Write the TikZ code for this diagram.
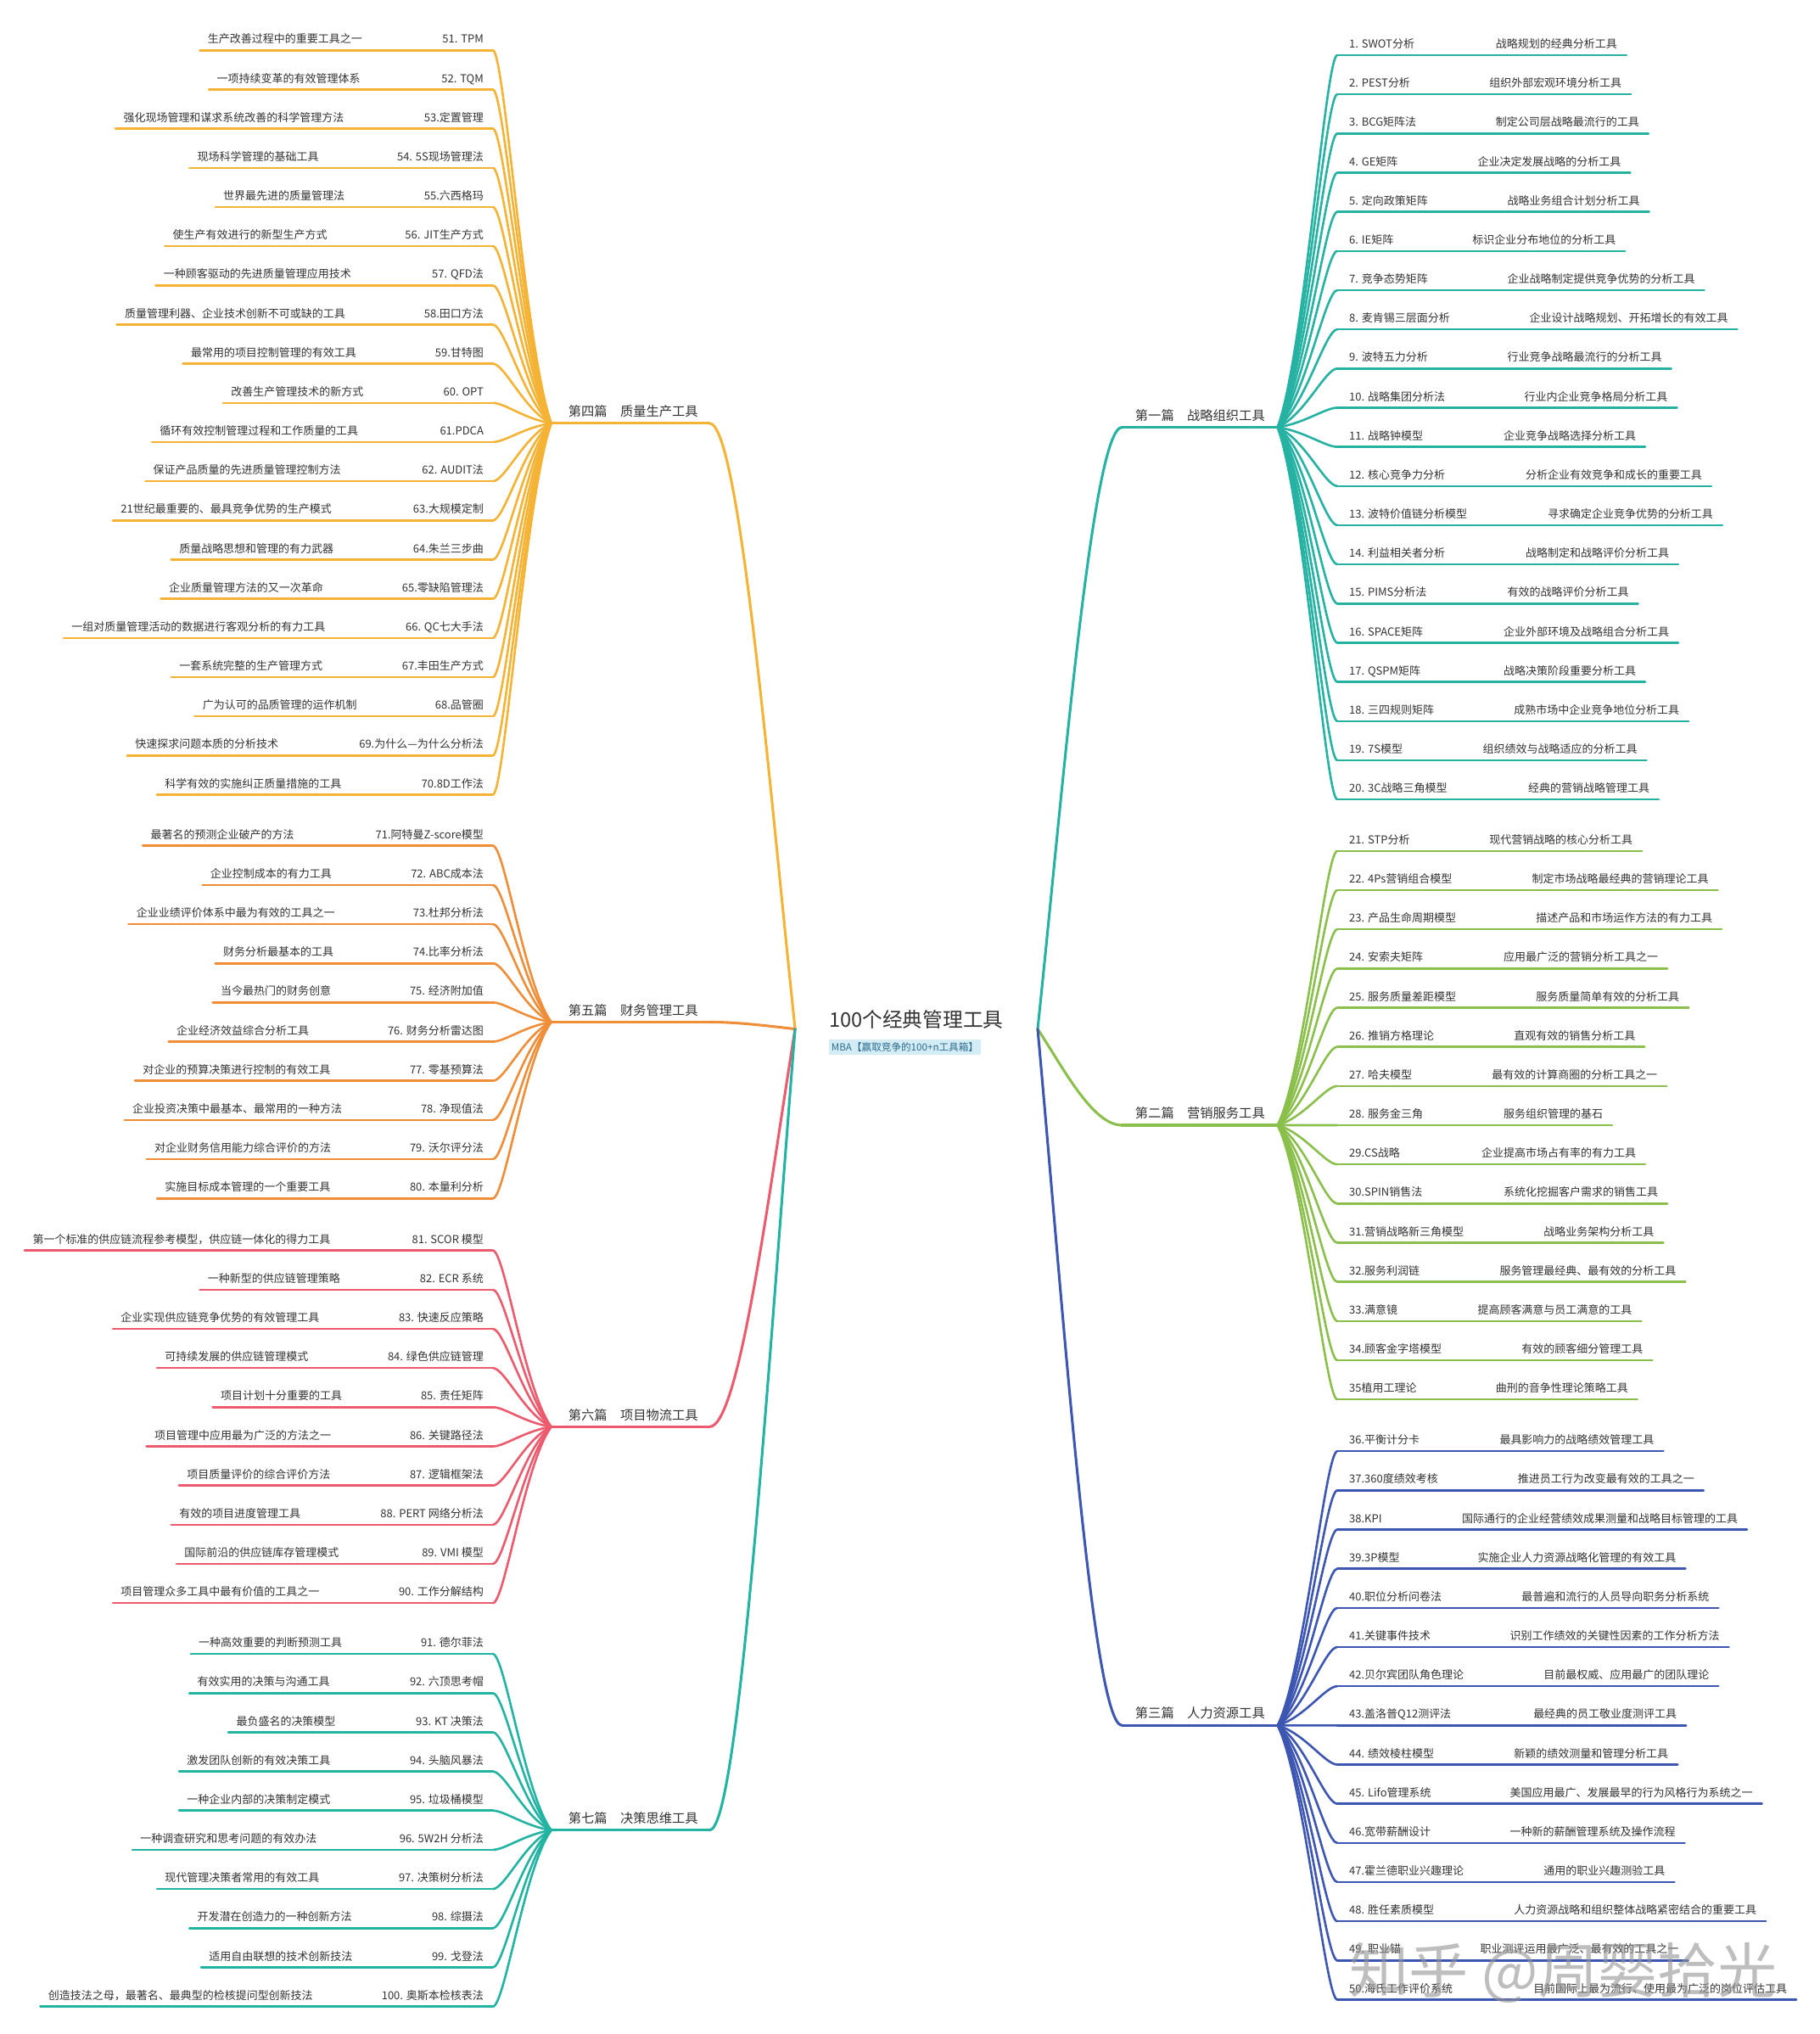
\documentclass[tikz,border=0pt]{standalone}
\usepackage{fontspec}
\setmainfont{Noto Sans CJK SC}
\usetikzlibrary{calc}
\definecolor{cA}{HTML}{26B2A2}
\definecolor{cB}{HTML}{8BBF4C}
\definecolor{cC}{HTML}{3D56B2}
\definecolor{cD}{HTML}{F5B335}
\definecolor{cE}{HTML}{F08D38}
\definecolor{cF}{HTML}{EC5B6D}
\definecolor{cG}{HTML}{22B3A3}
\definecolor{txtc}{HTML}{333333}
\definecolor{subbg}{HTML}{D3ECF5}
\definecolor{subtx}{HTML}{2E6C8E}
\tikzset{
  itm/.style={font=\fontsize{8.5}{10}\selectfont, text=txtc, inner sep=0pt},
  uline/.style={line width=1.7pt, line cap=round},
  fanline/.style={line width=1.7pt},
  bline/.style={line width=2pt, line cap=round},
  blab/.style={font=\fontsize{10}{12}\selectfont, text=txtc, inner sep=0pt},
}
\newcommand\myfancurve[3]{\draw[fanline,#3] let \p1=(#1), \p2=(#2) in (#1) .. controls ({\x1+0.45*(\x2-\x1)},{\y1+0.2*(\y2-\y1)}) and ({\x1+0.8*(\x2-\x1)},{\y2}) .. (#2);}
\newcommand\mybranchcurve[3]{\draw[bline,#3] let \p1=(#1), \p2=(#2) in (#1) .. controls ({\x1+0.3*(\x2-\x1)},{\y1+0.4*(\y2-\y1)}) and ({\x1+0.65*(\x2-\x1)},{\y2}) .. (#2);}
\newcommand\myrightgroup[5]{%
  \foreach \k/\nm/\dx/\ds in {#5}{%
    \pgfmathsetmacro\yu{#3+(\k-#4)*30.2}%
    \coordinate (r\k) at (1031,\yu);
    \node[itm,anchor=base west] (rn\k) at (1040,\yu-5.5) {\nm};
    \node[itm,anchor=base west] (rd\k) at (\dx,\yu-5.5) {\ds};
    \draw[uline,#1] (r\k) -- ([xshift=7pt]rd\k.east |- r\k);
    \myfancurve{#2}{r\k}{#1}
  }}
\newcommand\myleftgroup[5]{%
  \foreach \k/\dx/\ds/\nm in {#5}{%
    \pgfmathsetmacro\yu{#3+(\k-#4)*30.2}%
    \coordinate (l\k) at (380,\yu);
    \node[itm,anchor=base east] (ln\k) at (373,\yu-5.5) {\nm};
    \node[itm,anchor=base west] (ld\k) at (\dx,\yu-5.5) {\ds};
    \draw[uline,#1] ([xshift=-6pt]ld\k.west |- l\k) -- (l\k);
    \myfancurve{#2}{l\k}{#1}
  }}
\begin{document}
\begin{tikzpicture}[x=1pt,y=-1pt]
\useasboundingbox (0,0) rectangle (1403,1568);
\fill[white] (0,0) rectangle (1403,1568);
\coordinate (R0) at (800,793.2);
\coordinate (L0) at (613,793.2);

% ---------- right branches ----------
\coordinate (b1s) at (865,329.4); \coordinate (F1) at (985,329.4);
\node[blab,anchor=base west] (b1) at (875,323.9) {第一篇\hspace{1em}战略组织工具};
\draw[bline,cA] (b1s) -- (F1);
\mybranchcurve{R0}{b1s}{cA}

\coordinate (b2s) at (865,867.4); \coordinate (F2) at (985,867.4);
\node[blab,anchor=base west] (b2) at (875,861.9) {第二篇\hspace{1em}营销服务工具};
\draw[bline,cB] (b2s) -- (F2);
\mybranchcurve{R0}{b2s}{cB}

\coordinate (b3s) at (865,1330.1); \coordinate (F3) at (985,1330.1);
\node[blab,anchor=base west] (b3) at (875,1324.6) {第三篇\hspace{1em}人力资源工具};
\draw[bline,cC] (b3s) -- (F3);
\mybranchcurve{R0}{b3s}{cC}

% ---------- left branches ----------
\coordinate (b4s) at (547,326.3); \coordinate (F4) at (425,326.3);
\node[blab,anchor=base west] (b4) at (438,320.8) {第四篇\hspace{1em}质量生产工具};
\draw[bline,cD] (b4s) -- (F4);
\mybranchcurve{L0}{b4s}{cD}

\coordinate (b5s) at (547,787.9); \coordinate (F5) at (425,787.9);
\node[blab,anchor=base west] (b5) at (438,782.4) {第五篇\hspace{1em}财务管理工具};
\draw[bline,cE] (b5s) -- (F5);
\mybranchcurve{L0}{b5s}{cE}

\coordinate (b6s) at (547,1099.9); \coordinate (F6) at (425,1099.9);
\node[blab,anchor=base west] (b6) at (438,1094.4) {第六篇\hspace{1em}项目物流工具};
\draw[bline,cF] (b6s) -- (F6);
\mybranchcurve{L0}{b6s}{cF}

\coordinate (b7s) at (547,1410.9); \coordinate (F7) at (425,1410.9);
\node[blab,anchor=base west] (b7) at (438,1405.4) {第七篇\hspace{1em}决策思维工具};
\draw[bline,cG] (b7s) -- (F7);
\mybranchcurve{L0}{b7s}{cG}

% ---------- right items ----------
\myrightgroup{cA}{F1}{42.5}{1}{
1/{1. SWOT分析}/1153/{战略规划的经典分析工具},
2/{2. PEST分析}/1148/{组织外部宏观环境分析工具},
3/{3. BCG矩阵法}/1153/{制定公司层战略最流行的工具},
4/{4. GE矩阵}/1139/{企业决定发展战略的分析工具},
5/{5. 定向政策矩阵}/1162/{战略业务组合计划分析工具},
6/{6. IE矩阵}/1135/{标识企业分布地位的分析工具},
7/{7. 竞争态势矩阵}/1162/{企业战略制定提供竞争优势的分析工具},
8/{8. 麦肯锡三层面分析}/1179/{企业设计战略规划、开拓增长的有效工具},
9/{9. 波特五力分析}/1162/{行业竞争战略最流行的分析工具},
10/{10. 战略集团分析法}/1175/{行业内企业竞争格局分析工具},
11/{11. 战略钟模型}/1159/{企业竞争战略选择分析工具},
12/{12. 核心竞争力分析}/1176/{分析企业有效竞争和成长的重要工具},
13/{13. 波特价值链分析模型}/1193/{寻求确定企业竞争优势的分析工具},
14/{14. 利益相关者分析}/1176/{战略制定和战略评价分析工具},
15/{15. PIMS分析法}/1162/{有效的战略评价分析工具},
16/{16. SPACE矩阵}/1159/{企业外部环境及战略组合分析工具},
17/{17. QSPM矩阵}/1159/{战略决策阶段重要分析工具},
18/{18. 三四规则矩阵}/1167/{成熟市场中企业竞争地位分析工具},
19/{19. 7S模型}/1143/{组织绩效与战略适应的分析工具},
20/{20. 3C战略三角模型}/1178/{经典的营销战略管理工具}}

\myrightgroup{cB}{F2}{656}{21}{
21/{21. STP分析}/1148/{现代营销战略的核心分析工具},
22/{22. 4Ps营销组合模型}/1181/{制定市场战略最经典的营销理论工具},
23/{23. 产品生命周期模型}/1184/{描述产品和市场运作方法的有力工具},
24/{24. 安索夫矩阵}/1159/{应用最广泛的营销分析工具之一},
25/{25. 服务质量差距模型}/1184/{服务质量简单有效的分析工具},
26/{26. 推销方格理论}/1167/{直观有效的销售分析工具},
27/{27. 哈夫模型}/1150/{最有效的计算商圈的分析工具之一},
28/{28. 服务金三角}/1159/{服务组织管理的基石},
29/{29.CS战略}/1142/{企业提高市场占有率的有力工具},
30/{30.SPIN销售法}/1159/{系统化挖掘客户需求的销售工具},
31/{31.营销战略新三角模型}/1190/{战略业务架构分析工具},
32/{32.服务利润链}/1156/{服务管理最经典、最有效的分析工具},
33/{33.满意镜}/1139/{提高顾客满意与员工满意的工具},
34/{34.顾客金字塔模型}/1173/{有效的顾客细分管理工具},
35/{35植用工理论}/1153/{曲刑的音争性理论策略工具}}

\myrightgroup{cC}{F3}{1118.7}{36}{
36/{36.平衡计分卡}/1156/{最具影响力的战略绩效管理工具},
37/{37.360度绩效考核}/1170/{推进员工行为改变最有效的工具之一},
38/{38.KPI}/1127/{国际通行的企业经营绩效成果测量和战略目标管理的工具},
39/{39.3P模型}/1139/{实施企业人力资源战略化管理的有效工具},
40/{40.职位分析问卷法}/1173/{最普遍和流行的人员导向职务分析系统},
41/{41.关键事件技术}/1164/{识别工作绩效的关键性因素的工作分析方法},
42/{42.贝尔宾团队角色理论}/1190/{目前最权威、应用最广的团队理论},
43/{43.盖洛普Q12测评法}/1182/{最经典的员工敬业度测评工具},
44/{44. 绩效棱柱模型}/1167/{新颖的绩效测量和管理分析工具},
45/{45. Lifo管理系统}/1164/{美国应用最广、发展最早的行为风格行为系统之一},
46/{46.宽带薪酬设计}/1164/{一种新的薪酬管理系统及操作流程},
47/{47.霍兰德职业兴趣理论}/1190/{通用的职业兴趣测验工具},
48/{48. 胜任素质模型}/1167/{人力资源战略和组织整体战略紧密结合的重要工具},
49/{49. 职业锚}/1141/{职业测评运用最广泛、最有效的工具之一},
50/{50.海氏工作评价系统}/1182/{目前国际上最为流行、使用最为广泛的岗位评估工具}}

% ---------- left items ----------
\myleftgroup{cD}{F4}{38.8}{51}{
51/160/{生产改善过程中的重要工具之一}/{51. TPM},
52/167/{一项持续变革的有效管理体系}/{52. TQM},
53/95/{强化现场管理和谋求系统改善的科学管理方法}/{53.定置管理},
54/152/{现场科学管理的基础工具}/{54. 5S现场管理法},
55/172/{世界最先进的质量管理法}/{55.六西格玛},
56/133/{使生产有效进行的新型生产方式}/{56. JIT生产方式},
57/126/{一种顾客驱动的先进质量管理应用技术}/{57. QFD法},
58/96/{质量管理利器、企业技术创新不可或缺的工具}/{58.田口方法},
59/147/{最常用的项目控制管理的有效工具}/{59.甘特图},
60/178/{改善生产管理技术的新方式}/{60. OPT},
61/123/{循环有效控制管理过程和工作质量的工具}/{61.PDCA},
62/118/{保证产品质量的先进质量管理控制方法}/{62. AUDIT法},
63/93/{21世纪最重要的、最具竞争优势的生产模式}/{63.大规模定制},
64/138/{质量战略思想和管理的有力武器}/{64.朱兰三步曲},
65/130/{企业质量管理方法的又一次革命}/{65.零缺陷管理法},
66/55/{一组对质量管理活动的数据进行客观分析的有力工具}/{66. QC七大手法},
67/138/{一套系统完整的生产管理方式}/{67.丰田生产方式},
68/156/{广为认可的品质管理的运作机制}/{68.品管圈},
69/104/{快速探求问题本质的分析技术}/{69.为什么—为什么分析法},
70/127/{科学有效的实施纠正质量措施的工具}/{70.8D工作法}}

\myleftgroup{cE}{F5}{652}{71}{
71/116/{最著名的预测企业破产的方法}/{71.阿特曼Z-score模型},
72/162/{企业控制成本的有力工具}/{72. ABC成本法},
73/105/{企业业绩评价体系中最为有效的工具之一}/{73.杜邦分析法},
74/172/{财务分析最基本的工具}/{74.比率分析法},
75/170/{当今最热门的财务创意}/{75. 经济附加值},
76/136/{企业经济效益综合分析工具}/{76. 财务分析雷达图},
77/110/{对企业的预算决策进行控制的有效工具}/{77. 零基预算法},
78/102/{企业投资决策中最基本、最常用的一种方法}/{78. 净现值法},
79/119/{对企业财务信用能力综合评价的方法}/{79. 沃尔评分法},
80/127/{实施目标成本管理的一个重要工具}/{80. 本量利分析}}

\myleftgroup{cF}{F6}{964}{81}{
81/25/{第一个标准的供应链流程参考模型，供应链一体化的得力工具}/{81. SCOR 模型},
82/160/{一种新型的供应链管理策略}/{82. ECR 系统},
83/93/{企业实现供应链竞争优势的有效管理工具}/{83. 快速反应策略},
84/127/{可持续发展的供应链管理模式}/{84. 绿色供应链管理},
85/170/{项目计划十分重要的工具}/{85. 责任矩阵},
86/119/{项目管理中应用最为广泛的方法之一}/{86. 关键路径法},
87/144/{项目质量评价的综合评价方法}/{87. 逻辑框架法},
88/138/{有效的项目进度管理工具}/{88. PERT 网络分析法},
89/142/{国际前沿的供应链库存管理模式}/{89. VMI 模型},
90/93/{项目管理众多工具中最有价值的工具之一}/{90. 工作分解结构}}

\myleftgroup{cG}{F7}{1275}{91}{
91/153/{一种高效重要的判断预测工具}/{91. 德尔菲法},
92/152/{有效实用的决策与沟通工具}/{92. 六顶思考帽},
93/182/{最负盛名的决策模型}/{93. KT 决策法},
94/144/{激发团队创新的有效决策工具}/{94. 头脑风暴法},
95/144/{一种企业内部的决策制定模式}/{95. 垃圾桶模型},
96/108/{一种调查研究和思考问题的有效办法}/{96. 5W2H 分析法},
97/127/{现代管理决策者常用的有效工具}/{97. 决策树分析法},
98/152/{开发潜在创造力的一种创新方法}/{98. 综摄法},
99/161/{适用自由联想的技术创新技法}/{99. 戈登法},
100/37/{创造技法之母，最著名、最典型的检核提问型创新技法}/{100. 奥斯本检核表法}}

% ---------- centre ----------
\node[anchor=base west, inner sep=0pt, font=\fontsize{15.5}{18}\selectfont, text=txtc] (title) at (639,792) {100个经典管理工具};
\node[anchor=west, fill=subbg, text=subtx, font=\fontsize{7.6}{9}\selectfont, inner xsep=2.2pt, inner ysep=0pt, minimum height=12pt] (sub) at (638.6,807.4) {MBA【赢取竞争的100+n工具箱】};

% ---------- watermark ----------
\node[anchor=base west, inner sep=0pt, font=\fontsize{46}{46}\selectfont, text=black!42, opacity=0.6] (wm) at (1040,1536) {知乎 @周婴拾光};
\end{tikzpicture}
\end{document}
